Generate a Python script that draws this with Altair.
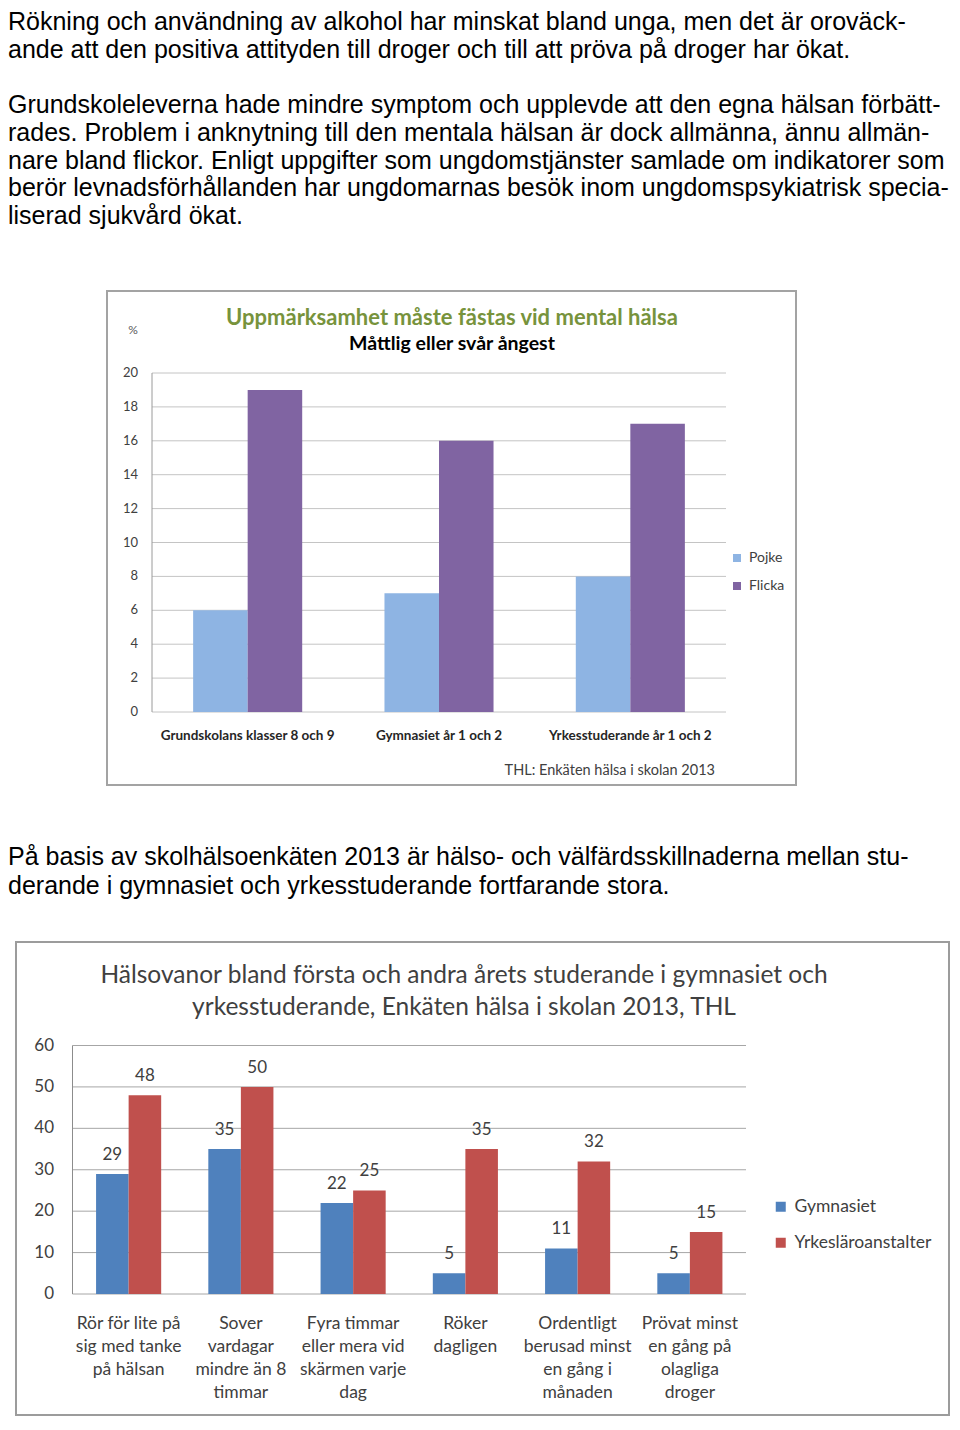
import altair as alt
import pandas as pd

# ---------------- text ----------------
para1 = [
    "Rökning och användning av alkohol har minskat bland unga, men det är oroväck-",
    "ande att den positiva attityden till droger och till att pröva på droger har ökat.",
]
para2 = [
    "Grundskoleleverna hade mindre symptom och upplevde att den egna hälsan förbätt-",
    "rades. Problem i anknytning till den mentala hälsan är dock allmänna, ännu allmän-",
    "nare bland flickor. Enligt uppgifter som ungdomstjänster samlade om indikatorer som",
    "berör levnadsförhållanden har ungdomarnas besök inom ungdomspsykiatrisk specia-",
    "liserad sjukvård ökat.",
]
para3 = [
    "På basis av skolhälsoenkäten 2013 är hälso- och välfärdsskillnaderna mellan stu-",
    "derande i gymnasiet och yrkesstuderande fortfarande stora.",
]

# ---------------- chart 1 ----------------
c1_title = "Uppmärksamhet måste fästas vid mental hälsa"
c1_subtitle = "Måttlig eller svår ångest"
c1_unit = "%"
c1_source = "THL: Enkäten hälsa i skolan 2013"
c1_groups = ["Grundskolans klasser 8 och 9", "Gymnasiet år 1 och 2", "Yrkesstuderande år 1 och 2"]
c1_series = ["Pojke", "Flicka"]
c1_pojke = [6, 7, 8]
c1_flicka = [19, 16, 17]
c1_ticks = [0, 2, 4, 6, 8, 10, 12, 14, 16, 18, 20]
c1_colors = ["#8eb4e3", "#8064a2"]

# ---------------- chart 2 ----------------
c2_title1 = "Hälsovanor bland första och andra årets studerande i gymnasiet och"
c2_title2 = "yrkesstuderande, Enkäten hälsa i skolan 2013, THL"
c2_groups = [
    "Rör för lite på\nsig med tanke\npå hälsan",
    "Sover\nvardagar\nmindre än 8\ntimmar",
    "Fyra timmar\neller mera vid\nskärmen varje\ndag",
    "Röker\ndagligen",
    "Ordentligt\nberusad minst\nen gång i\nmånaden",
    "Prövat minst\nen gång på\nolagliga\ndroger",
]
c2_series = ["Gymnasiet", "Yrkesläroanstalter"]
c2_gym = [29, 35, 22, 5, 11, 5]
c2_yrk = [48, 50, 25, 35, 32, 15]
c2_ticks = [0, 10, 20, 30, 40, 50, 60]
c2_colors = ["#4f81bd", "#c0504d"]

W = 944
BODY_FONT = "Liberation Sans"
CHART_FONT = "Lato"
one = pd.DataFrame({"k": [0]})


def text_panel(lines, rows, y0, y1, r1, height):
    df = pd.DataFrame({"line": lines, "row": rows})
    return alt.Chart(df).mark_text(
        align="left", baseline="alphabetic", font=BODY_FONT, fontSize=25, color="#000000"
    ).encode(
        x=alt.value(0),
        y=alt.Y("row:Q", scale=alt.Scale(domain=[0, r1], range=[y0, y1], nice=False, zero=False), axis=None),
        text="line:N",
    ).properties(width=W, height=height)


panelA = text_panel(para1 + para2, [0, 1, 3, 4, 5, 6, 7], 22, 216, 7, 282)
panelC = text_panel(para3, [0, 1], 35, 64, 1, 111)


def label(txt, x, y, size, color, weight="normal", align="center", baseline="middle"):
    return alt.Chart(one).mark_text(
        text=txt, font=CHART_FONT, fontSize=size, color=color, fontWeight=weight,
        align=align, baseline=baseline,
    ).encode(x=alt.value(x), y=alt.value(y))


# ---------- panel B : chart 1 ----------
y1s = alt.Scale(domain=[0, 20], range=[422, 83], nice=False, zero=False)
x1s = alt.Scale(domain=c1_groups, range=[144, 718], paddingInner=0.43, paddingOuter=0.215)
df1 = pd.DataFrame({
    "group": c1_groups * 2,
    "series": [c1_series[0]] * 3 + [c1_series[1]] * 3,
    "value": c1_pojke + c1_flicka,
})
t1 = pd.DataFrame({"tick": c1_ticks})
g1 = pd.DataFrame({"group": c1_groups})

box1 = alt.Chart(one).mark_rect(fillOpacity=0, stroke="#a3a3a3", strokeWidth=2).encode(
    x=alt.value(99), x2=alt.value(788), y=alt.value(1), y2=alt.value(495))
grid1 = alt.Chart(t1).mark_rule(color="#c4c4c4", strokeWidth=1).encode(
    y=alt.Y("tick:Q", scale=y1s, axis=None), x=alt.value(144), x2=alt.value(718))
axis1 = alt.Chart(one).mark_rule(color="#9a9a9a", strokeWidth=1).encode(
    x=alt.value(144), y=alt.value(83), y2=alt.value(422))
ticklab1 = alt.Chart(t1).mark_text(align="right", baseline="middle", font=CHART_FONT,
                                   fontSize=13, color="#404040").encode(
    y=alt.Y("tick:Q", scale=y1s, axis=None), x=alt.value(130), text="tick:Q")
bars1 = alt.Chart(df1).mark_bar().encode(
    x=alt.X("group:N", scale=x1s, axis=None, sort=c1_groups),
    xOffset=alt.XOffset("series:N", scale=alt.Scale(domain=c1_series, paddingInner=0, paddingOuter=0)),
    y=alt.Y("value:Q", scale=y1s, axis=None),
    color=alt.Color("series:N", scale=alt.Scale(domain=c1_series, range=c1_colors),
                    legend=alt.Legend(orient="none", legendX=722, legendY=261, title=None,
                                      symbolType="square", symbolSize=64, symbolStrokeWidth=0,
                                      labelFont=CHART_FONT, labelFontSize=14, labelColor="#404040",
                                      rowPadding=14, labelOffset=5)),
)
glab1 = alt.Chart(g1).mark_text(font=CHART_FONT, fontSize=13.5, fontWeight="bold", color="#262626",
                                baseline="middle").encode(
    x=alt.X("group:N", scale=x1s, axis=None, sort=c1_groups), y=alt.value(446), text="group:N")

panelB = alt.layer(
    box1, grid1, axis1, ticklab1, bars1, glab1,
    label(c1_title, 444, 28, 22, "#77933c", "bold"),
    label(c1_subtitle, 444, 54, 19.5, "#000000", "bold"),
    label(c1_unit, 125, 40, 12, "#595959"),
    label(c1_source, 707, 481, 14.5, "#404040", align="right"),
).properties(width=W, height=540)

# ---------- panel D : chart 2 ----------
y2s = alt.Scale(domain=[0, 60], range=[353, 104.5], nice=False, zero=False)
x2s = alt.Scale(domain=c2_groups, range=[64.5, 738], paddingInner=0.42, paddingOuter=0.21)
df2 = pd.DataFrame({
    "group": c2_groups * 2,
    "series": [c2_series[0]] * 6 + [c2_series[1]] * 6,
    "value": c2_gym + c2_yrk,
})
t2 = pd.DataFrame({"tick": c2_ticks})
g2 = pd.DataFrame({"group": c2_groups})

box2 = alt.Chart(one).mark_rect(fillOpacity=0, stroke="#9c9c9c", strokeWidth=2).encode(
    x=alt.value(8), x2=alt.value(941), y=alt.value(1), y2=alt.value(474))
grid2 = alt.Chart(t2).mark_rule(color="#a6a6a6", strokeWidth=1).encode(
    y=alt.Y("tick:Q", scale=y2s, axis=None), x=alt.value(64.5), x2=alt.value(738))
axis2 = alt.Chart(one).mark_rule(color="#8c8c8c", strokeWidth=1).encode(
    x=alt.value(64.5), y=alt.value(104.5), y2=alt.value(353))
ticklab2 = alt.Chart(t2).mark_text(align="right", baseline="middle", font=CHART_FONT,
                                   fontSize=17, color="#404040").encode(
    y=alt.Y("tick:Q", scale=y2s, axis=None), x=alt.value(46), text="tick:Q")
enc2 = dict(
    x=alt.X("group:N", scale=x2s, axis=None, sort=c2_groups),
    xOffset=alt.XOffset("series:N", scale=alt.Scale(domain=c2_series, paddingInner=0, paddingOuter=0)),
    y=alt.Y("value:Q", scale=y2s, axis=None),
)
bars2 = alt.Chart(df2).mark_bar().encode(
    color=alt.Color("series:N", scale=alt.Scale(domain=c2_series, range=c2_colors),
                    legend=alt.Legend(orient="none", legendX=764, legendY=257, title=None,
                                      symbolType="square", symbolSize=100, symbolStrokeWidth=0,
                                      labelFont=CHART_FONT, labelFontSize=17.5, labelColor="#404040",
                                      rowPadding=17, labelOffset=5)),
    **enc2,
)
vlab2 = alt.Chart(df2).mark_text(font=CHART_FONT, fontSize=17, color="#404040",
                                 baseline="middle", dy=-19).encode(text="value:Q", **enc2)
glab2 = alt.Chart(g2).mark_text(font=CHART_FONT, fontSize=17.5, color="#404040", baseline="top",
                                lineBreak="\n", lineHeight=23).encode(
    x=alt.X("group:N", scale=x2s, axis=None, sort=c2_groups), y=alt.value(374), text="group:N")

panelD = alt.layer(
    box2, grid2, axis2, ticklab2, bars2, vlab2, glab2,
    label(c2_title1, 456, 35, 24.5, "#404040"),
    label(c2_title2, 456, 67, 24.5, "#404040"),
).properties(width=W, height=475)

chart = alt.vconcat(panelA, panelB, panelC, panelD, spacing=0).resolve_scale(
    color="independent", xOffset="independent", x="independent", y="independent"
).properties(padding=0).configure_view(strokeWidth=0)

chart.save("out.html", embed_options={"renderer": "svg", "actions": False})
